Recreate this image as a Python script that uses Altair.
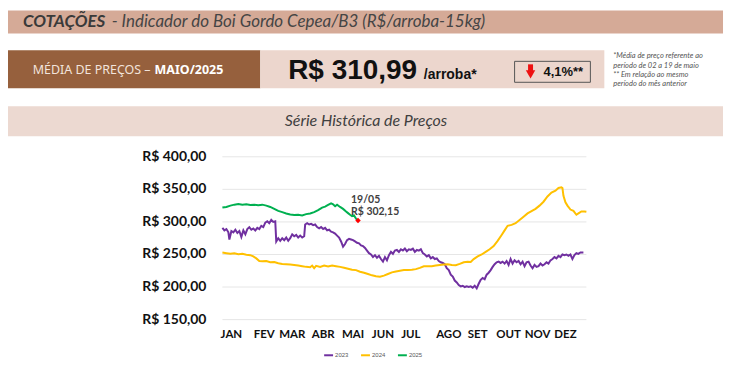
import altair as alt
import pandas as pd

# ---------------- data ----------------
YEARS = ["2023", "2024", "2025"]
COLORS = ["#7030a0", "#ffc000", "#00b050"]

# x = position index along the year (trading-day scale of the chart)
X_2023 = [0, 2, 4, 6, 7, 9, 11, 13, 15, 17, 19, 21, 23, 25, 27, 29, 31, 33, 35, 37, 39, 41, 43, 45, 47, 49, 51, 53,
          54, 56, 58, 60, 62, 64, 66, 68, 70, 72, 74, 76, 78, 80, 82, 83, 85, 87, 89, 91, 93, 95, 97, 99, 101, 103,
          105, 107, 109, 111, 113, 115, 117, 119, 121, 123, 125, 127, 129, 131, 133, 135, 137, 139, 141, 143, 145,
          147, 149, 151, 153, 155, 157, 159, 161, 163, 165, 167, 169, 171, 173, 175, 177, 179, 181, 183, 185, 187,
          189, 191, 193, 195, 197, 199, 201, 203, 205, 207, 209, 211, 213, 215, 217, 219, 221, 223, 225, 227, 229,
          231, 233, 235, 237, 239, 241, 243, 245, 247, 249, 251, 253, 255, 257, 259, 261, 263, 265, 267, 269, 271,
          273, 275, 277, 279, 281, 283, 285, 287, 289, 291, 293, 295, 297, 299, 301, 303, 305, 307, 309, 311, 313,
          315, 317, 319, 321, 323, 325, 327, 329, 331, 333, 335, 337, 339, 341, 343, 345, 347, 349, 351, 353, 355,
          357, 359, 361, 362]
V_2023 = [291, 287, 289, 284, 273, 286, 284, 288, 283, 286, 277, 287, 281, 289, 292, 288, 290, 287, 291, 289, 294,
          292, 299, 301, 298, 303, 300, 301,
          270, 275, 271, 275, 272, 276, 271, 275, 281, 278, 280, 276, 279, 276, 278, 296, 298, 296, 297, 295, 296,
          292, 290, 292, 289, 291,
          287, 288, 285, 284, 282, 279, 276, 270, 262, 266, 272, 274, 273, 272, 270, 268, 267, 264, 263, 260, 256,
          252, 250, 246, 249, 245, 248, 243, 239, 246, 241, 249, 254, 251, 256, 257, 254, 258, 256, 259, 255, 258,
          257, 259, 254, 257, 256, 258, 252, 250, 247, 249, 244, 246, 243, 244, 240, 238, 237, 235, 229, 226, 219,
          216, 210, 207, 203, 201, 202, 200, 201, 200, 201, 199, 202, 198, 205, 211, 214, 212, 219, 222, 226, 231,
          235, 238, 239, 237, 239, 236, 240, 234, 243, 236, 241, 238, 240, 235, 239, 232, 238, 239, 233, 229, 234,
          231, 232, 236, 233, 235, 238, 236, 241, 243, 246, 244, 248, 246, 250, 249, 250, 248, 250, 243, 249, 252,
          251, 253, 253, 253]

X_2024 = [0, 4, 8, 12, 16, 20, 24, 28, 31, 34, 37, 40, 44, 48, 52, 56, 60, 64, 68, 72, 76, 80, 84, 88, 90, 92, 94,
          98, 102, 106, 110, 114, 118, 122, 126, 130, 134, 138, 142, 146, 150, 154, 158, 162, 166, 170, 174, 178,
          182, 186, 190, 194, 198, 202, 206, 210, 214, 218, 222, 226, 230, 234, 238, 242, 246, 249, 252, 256, 260,
          264, 268, 272, 276, 280, 283, 286, 290, 294, 298, 302, 306, 310, 314, 318, 322, 326, 330, 334, 337, 340,
          341, 342, 344, 346, 349, 352, 355, 357, 360, 363, 365]
V_2024 = [253, 252, 251, 252, 250.5, 251, 249.5, 249, 247, 244, 240, 239.5, 240, 238, 238.5, 236.5, 235.5, 235,
          234.5, 234, 233, 232, 231, 230.5, 233, 229, 232.5, 231, 233, 231.5, 233, 232, 231, 229.5, 228, 226.5, 226,
          223.5, 222, 220, 218, 216.5, 216, 217.5, 220, 222.5, 224, 225, 226, 226, 226.5, 227.5, 229.5, 232, 232,
          232, 233, 234, 234.5, 235, 234, 233.5, 235.5, 238, 239, 238.5, 243, 247, 250, 254, 258, 263, 271, 280,
          287, 294, 295.5, 298, 303, 308, 313, 316.5, 320, 325, 331, 339, 345, 348, 352, 353, 352, 340, 330, 325,
          319, 317, 311, 313, 316, 316, 315.5]

X_2025 = [0, 4, 8, 12, 16, 20, 24, 28, 32, 36, 40, 44, 48, 52, 56, 60, 64, 68, 72, 76, 80, 84, 88, 92, 96, 100,
          103, 106, 109, 111, 113, 115, 118, 121, 124, 126, 128, 130, 132, 134, 136]
V_2025 = [322, 323, 325, 326.5, 327.5, 326.5, 327, 326, 326.5, 325.5, 326.5, 325, 323, 320, 317, 315, 313, 311.5,
          310.5, 311, 310, 312, 313, 315, 318, 322, 323.5, 326, 328.5, 327, 324, 326.5, 323, 320, 316, 313.5, 311,
          309, 310, 305, 302.15]

LAST_X = 136
LAST_VALUE = 302.15
LAST_DATE = "19/05"
LAST_LABEL = "R$ 302,15"

Y_TICKS = [150, 200, 250, 300, 350, 400]
Y_LABELS = ["R$ 150,00", "R$ 200,00", "R$ 250,00", "R$ 300,00", "R$ 350,00", "R$ 400,00"]
MONTHS = ["JAN", "FEV", "MAR", "ABR", "MAI", "JUN", "JUL", "AGO", "SET", "OUT", "NOV", "DEZ"]
MONTH_POS = [9, 42, 70, 101, 131, 161, 189, 227, 256, 287, 316, 344]

TITLE_BOLD = "COTAÇÕES"
TITLE_REST = "- Indicador do Boi Gordo Cepea/B3 (R$/arroba-15kg)"
AVG_LABEL = "MÉDIA DE PREÇOS –"
AVG_MONTH = "MAIO/2025"
AVG_PRICE = "R$ 310,99"
AVG_UNIT = "/arroba*"
CHANGE = "4,1%**"
NOTES = ["*Média de preço referente ao", "período de 02 a 19 de maio",
         "** Em relação ao mesmo", "período do mês anterior"]
SUBTITLE = "Série Histórica de Preços"

# ---------------- helpers ----------------
O = 8  # page margin -> chart origin
W, H = 718, 353
one = alt.Data(values=[{}])
LBL_FONT = "Lato"

xs = alt.Scale(domain=[0, 364], range=[221 - O, 585 - O])
ys = alt.Scale(domain=[150, 400], range=[320 - O, 156.7 - O])


def box(x1, x2, y1, y2, color, stroke=None, sw=0):
    kw = dict(color=color)
    if stroke:
        kw.update(stroke=stroke, strokeWidth=sw)
    return alt.Chart(one).mark_rect(**kw).encode(
        x=alt.value(x1 - O), x2=alt.value(x2 - O), y=alt.value(y1 - O), y2=alt.value(y2 - O))


def txt(s, x, y, size, color="#404040", weight="normal", style="normal", align="left",
        font="Lato", baseline="middle"):
    return alt.Chart(one).mark_text(
        text=s, align=align, baseline=baseline, font=font, fontSize=size, fontWeight=weight,
        fontStyle=style, color=color).encode(x=alt.value(x - O), y=alt.value(y - O))


# ---------------- header ----------------
layers = []
layers.append(box(6, 723, 10, 33, "#d5aa97"))
layers.append(txt(TITLE_BOLD, 21, 22, 17, "#3a3a3a", "bold", "italic", font="Lato"))
layers.append(txt(TITLE_REST, 110, 22, 17, "#454545", "normal", "italic", font="Lato"))

layers.append(box(6, 259, 50, 88, "#96603d"))
layers.append(box(259, 604, 50, 88, "#ecd6cd"))
layers.append(txt(AVG_LABEL, 149, 70, 12.5, "#f2e4dc", "normal", align="right", font="Noto Sans"))
layers.append(txt(AVG_MONTH, 153, 70, 12.5, "#ffffff", "bold", font="Noto Sans"))
layers.append(txt(AVG_PRICE, 287, 79, 28, "#111111", 900, font="Liberation Sans", baseline="alphabetic"))
layers.append(txt(AVG_UNIT, 423, 79, 14, "#111111", "bold", font="Liberation Sans", baseline="alphabetic"))
layers.append(box(514, 590, 61, 82, "#ecd6cd", stroke="#555555", sw=1))
layers.append(alt.Chart(one).mark_point(shape="triangle-down", filled=True, color="#ee1111", size=90, opacity=1)
              .encode(x=alt.value(530 - O), y=alt.value(74 - O)))
layers.append(alt.Chart(one).mark_rule(color="#ee1111", strokeWidth=5)
              .encode(x=alt.value(530 - O), y=alt.value(64 - O), y2=alt.value(71 - O)))
layers.append(txt(CHANGE, 543, 72, 13, "#111111", "bold", font="Liberation Sans"))
for i, n in enumerate(NOTES):
    layers.append(txt(n, 613, 56 + i * 9.4, 7.5, "#555555", "normal", "italic", font="Lato"))

layers.append(box(6, 723, 106, 136, "#ecd9d1"))
layers.append(txt(SUBTITLE, 365, 121, 16, "#404040", "normal", "italic", align="center", font="Lato"))

# ---------------- chart ----------------
grid_df = pd.DataFrame({"v": Y_TICKS, "label": Y_LABELS})
grid = alt.Chart(grid_df).mark_rule(color="#e6e6e6", strokeWidth=1).encode(
    y=alt.Y("v:Q", scale=ys, axis=None), x=alt.value(221 - O), x2=alt.value(586 - O))
ylab = alt.Chart(grid_df).mark_text(align="right", baseline="middle", font=LBL_FONT,
                                    fontSize=14, fontWeight="bold", color="#111111").encode(
    y=alt.Y("v:Q", scale=ys, axis=None), x=alt.value(205 - O), text="label:N")

mon_df = pd.DataFrame({"m": MONTHS, "pos": MONTH_POS})
xlab = alt.Chart(mon_df).mark_text(align="center", baseline="middle", font=LBL_FONT,
                                   fontSize=11.5, fontWeight="bold", color="#111111").encode(
    x=alt.X("pos:Q", scale=xs, axis=None), y=alt.value(335 - O), text="m:N")

rows = []
for yr, xl, vl in (("2023", X_2023, V_2023), ("2024", X_2024, V_2024), ("2025", X_2025, V_2025)):
    for a, b in zip(xl, vl):
        rows.append({"year": yr, "x": a, "v": b})
line_df = pd.DataFrame(rows)
lines = alt.Chart(line_df).mark_line(strokeWidth=2).encode(
    x=alt.X("x:Q", scale=xs, axis=None),
    y=alt.Y("v:Q", scale=ys, axis=None),
    color=alt.Color("year:N", scale=alt.Scale(domain=YEARS, range=COLORS),
                    legend=alt.Legend(orient="none", legendX=322 - O, legendY=350 - O, direction="horizontal",
                                      title=None, symbolType="stroke", symbolStrokeWidth=2, symbolSize=80,
                                      labelFontSize=6, labelColor="#595959", columnPadding=8,
                                      symbolOffset=0, labelOffset=1)),
    detail="year:N")

pt_df = pd.DataFrame({"x": [LAST_X], "v": [LAST_VALUE], "d": [LAST_DATE], "l": [LAST_LABEL]})
pt = alt.Chart(pt_df).mark_point(shape="diamond", filled=True, color="#ff0000", size=30, opacity=1).encode(
    x=alt.X("x:Q", scale=xs, axis=None), y=alt.Y("v:Q", scale=ys, axis=None))
pt_d = alt.Chart(pt_df).mark_text(align="left", baseline="middle", font=LBL_FONT, fontSize=10.5,
                                  fontWeight="bold", color="#404040", dx=-7, dy=-21).encode(
    x=alt.X("x:Q", scale=xs, axis=None), y=alt.Y("v:Q", scale=ys, axis=None), text="d:N")
pt_l = alt.Chart(pt_df).mark_text(align="left", baseline="middle", font=LBL_FONT, fontSize=10.5,
                                  fontWeight="bold", color="#404040", dx=-7, dy=-9).encode(
    x=alt.X("x:Q", scale=xs, axis=None), y=alt.Y("v:Q", scale=ys, axis=None), text="l:N")

chart = alt.layer(*layers, grid, ylab, xlab, lines, pt, pt_d, pt_l).properties(
    width=W, height=H, padding=0, background="#ffffff"
).configure_view(stroke=None)

chart.save("out.html", embed_options={"renderer": "svg", "actions": False})
